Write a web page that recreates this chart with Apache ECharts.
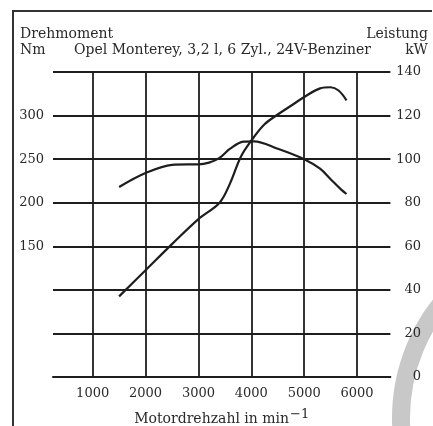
<!DOCTYPE html>
<html>
<head>
<meta charset="utf-8">
<script src="https://cdn.jsdelivr.net/npm/echarts@6/dist/echarts.min.js"></script>
<style>
html,body{margin:0;padding:0;background:#fff;}
#c{width:433px;height:426px;}
</style>
</head>
<body>
<div id="c"></div>
<script>
const rpmTicks = [1000, 2000, 3000, 4000, 5000, 6000];
const nmLabels = [150, 200, 250, 300];
const rpmTorque = [1500, 2000, 2500, 2800, 3000, 3200, 3400, 3600, 3850, 4050, 4500, 5000, 5300, 5500, 5700, 5800];
const torqueNm  = [218, 234, 243.5, 244, 244, 246, 251.5, 262, 270, 270.5, 262, 250, 239, 227, 215, 210];
const rpmPower = [1500, 2000, 2500, 3000, 3400, 3600, 3800, 4000, 4250, 4500, 4750, 5000, 5300, 5500, 5650, 5800];
const powerKW  = [37, 49, 61, 72.5, 80, 89, 101, 108.5, 116, 120.5, 124.5, 128.5, 132.5, 133, 131.5, 127];

const FONT = 'DejaVu Serif';
const TXT = '#2a2a2a';
const LINE = '#1e1e1e';

const chart = echarts.init(document.getElementById('c'), null, {renderer: 'canvas'});
chart.setOption({
  backgroundColor: '#fff',
  animation: false,
  grid: {left: 53, right: 42.6, top: 72, bottom: 49, containLabel: false, outerBoundsMode: 'none'},
  xAxis: {
    type: 'value', min: 250, max: 6630,
    axisLine: {show: true, lineStyle: {color: LINE, width: 2}},
    axisTick: {show: false, customValues: rpmTicks},
    axisLabel: {customValues: rpmTicks, formatter: v => String(v), color: TXT, fontFamily: FONT, fontSize: 13, margin: 10},
    splitLine: {show: true, lineStyle: {color: LINE, width: 1.8}},
    name: '{a|Motordrehzahl in min}{b|−1}',
    nameLocation: 'middle', nameGap: 31,
    nameTextStyle: {
      rich: {
        a: {fontFamily: FONT, fontSize: 14, color: TXT},
        b: {fontFamily: FONT, fontSize: 13, color: TXT, padding: [0, 0, 9, 1]}
      }
    }
  },
  yAxis: [
    {
      type: 'value', min: 0, max: 350, interval: 50, position: 'left',
      axisLine: {show: false}, axisTick: {show: false}, splitLine: {show: false},
      axisLabel: {
        color: TXT, fontFamily: FONT, fontSize: 13, margin: 9,
        formatter: v => nmLabels.indexOf(v) >= 0 ? String(v) : ''
      }
    },
    {
      type: 'value', min: 0, max: 140, interval: 20, position: 'right',
      axisLine: {show: false}, axisTick: {show: false},
      splitLine: {show: true, lineStyle: {color: LINE, width: 1.8}},
      axisLabel: {color: TXT, fontFamily: FONT, fontSize: 13, margin: 30.6, align: 'right'}
    }
  ],
  graphic: [
    {type: 'ring', z: -10, shape: {cx: 584, cy: 418, r: 192, r0: 174}, style: {fill: '#c8c8c8'}},
    {type: 'polyline', shape: {points: [[13, 430], [13, 11], [432, 11]]}, style: {stroke: '#333', lineWidth: 2, fill: null}},
    {type: 'text', left: 20, top: 27, style: {text: 'Drehmoment', font: '14px "DejaVu Serif"', fill: TXT}},
    {type: 'text', left: 20, top: 43, style: {text: 'Nm', font: '14px "DejaVu Serif"', fill: TXT}},
    {type: 'text', left: 74, top: 43, style: {text: 'Opel Monterey, 3,2 l, 6 Zyl., 24V-Benziner', font: '14px "DejaVu Serif"', fill: TXT}},
    {type: 'text', right: 5, top: 27, style: {text: 'Leistung', font: '14px "DejaVu Serif"', fill: TXT}},
    {type: 'text', right: 5, top: 43, style: {text: 'kW', font: '14px "DejaVu Serif"', fill: TXT}}
  ],
  series: [
    {
      type: 'line', yAxisIndex: 0, smooth: 0.35, symbol: 'none',
      lineStyle: {color: LINE, width: 2.2},
      data: rpmTorque.map((r, i) => [r, torqueNm[i]])
    },
    {
      type: 'line', yAxisIndex: 1, smooth: 0.35, symbol: 'none',
      lineStyle: {color: LINE, width: 2.2},
      data: rpmPower.map((r, i) => [r, powerKW[i]])
    }
  ]
});
</script>
</body>
</html>
